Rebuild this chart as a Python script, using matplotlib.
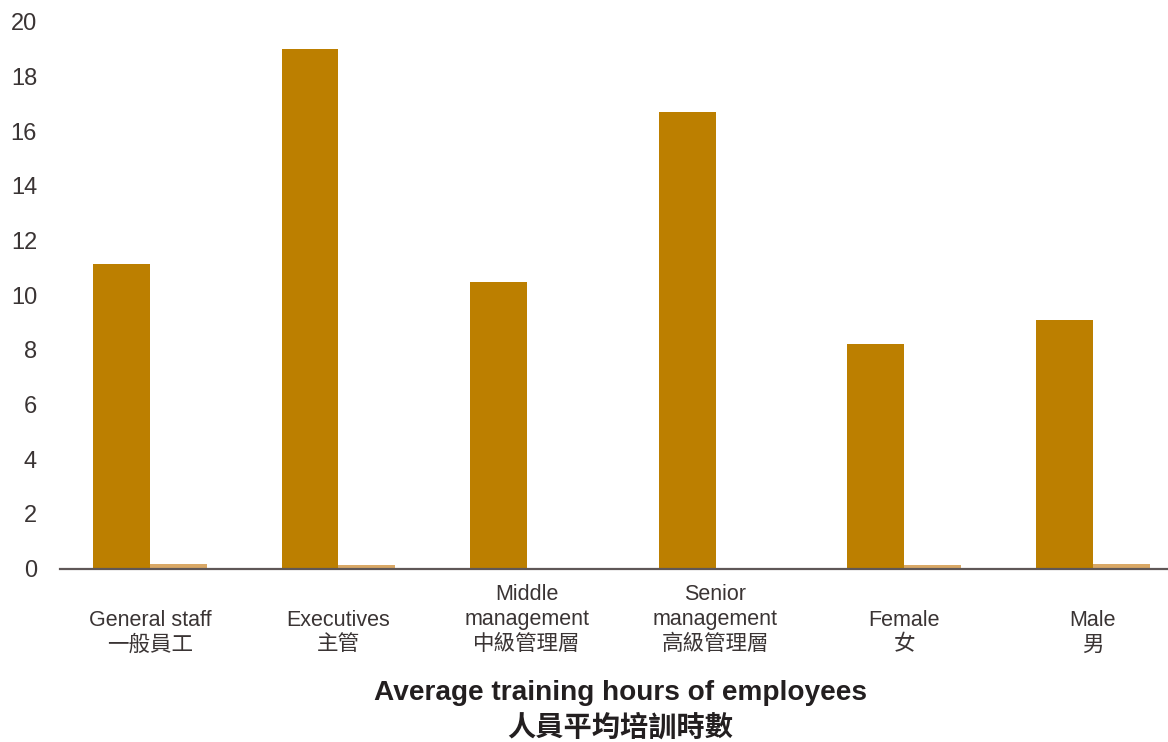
import matplotlib
matplotlib.use("Agg")
import matplotlib.pyplot as plt
import numpy as np
from matplotlib.transforms import blended_transform_factory

plt.rcParams['font.family'] = ['Liberation Sans', 'Noto Sans CJK TC', 'DejaVu Sans']

categories_en = [["General staff"], ["Executives"], ["Middle", "management"],
                 ["Senior", "management"], ["Female"], ["Male"]]
categories_zh = ["一般員工", "主管", "中級管理層", "高級管理層", "女", "男"]
series_main = [11.15, 19.0, 10.47, 16.7, 8.23, 9.1]
series_minor = [0.15, 0.11, 0.0, 0.0, 0.11, 0.15]
yticks = [0, 2, 4, 6, 8, 10, 12, 14, 16, 18, 20]
title_en = "Average training hours of employees"
title_zh = "人員平均培訓時數"

W, H = 1168, 742
fig = plt.figure(figsize=(W / 100, H / 100), dpi=100)
y0_px, y20_px = 568.5, 22
ax = fig.add_axes([60 / W, (H - y0_px) / H, 1 - 60 / W, (y0_px - y20_px) / H])

x = np.arange(len(series_main))
bw = 0.302
ax.bar(x - bw / 2, series_main, width=bw, color="#BC7F00", zorder=2)
ax.bar(x + bw / 2, series_minor, width=bw, color="#D9A866", zorder=2)

ax.set_xlim(-0.477, 5.40)
ax.set_ylim(0, 20)
ax.set_yticks(yticks)
ax.set_yticklabels([str(v) for v in yticks])
ax.tick_params(axis='y', length=0, pad=16.5, labelsize=17, labelcolor="#3a3434")
for lab in ax.get_yticklabels():
    lab.set_ha('right')
ax.set_xticks([])
for s in ['top', 'right', 'left']:
    ax.spines[s].set_visible(False)
ax.spines['bottom'].set_color("#5f5757")
ax.spines['bottom'].set_linewidth(1.6)
ax.spines['bottom'].set_zorder(3)

tr = blended_transform_factory(ax.transData, fig.transFigure)
def fy(px):
    return (H - px) / H

for i in range(len(x)):
    lines = categories_en[i]
    ax.text(x[i], fy(645), categories_zh[i], transform=tr, ha='center', va='center',
            fontsize=15.5, color="#3a3434")
    for j, ln in enumerate(reversed(lines)):
        ax.text(x[i], fy(620 - 25 * j), ln, transform=tr, ha='center', va='center',
                fontsize=15.5, color="#3a3434")

fig.text(620 / W, fy(693), title_en, ha='center', va='center', fontsize=20.2,
         fontweight='bold', color="#231f20")
fig.text(620 / W, fy(728), title_zh, ha='center', va='center', fontsize=20.3,
         fontweight='bold', color="#231f20")

fig.savefig("out.png", dpi=100)
